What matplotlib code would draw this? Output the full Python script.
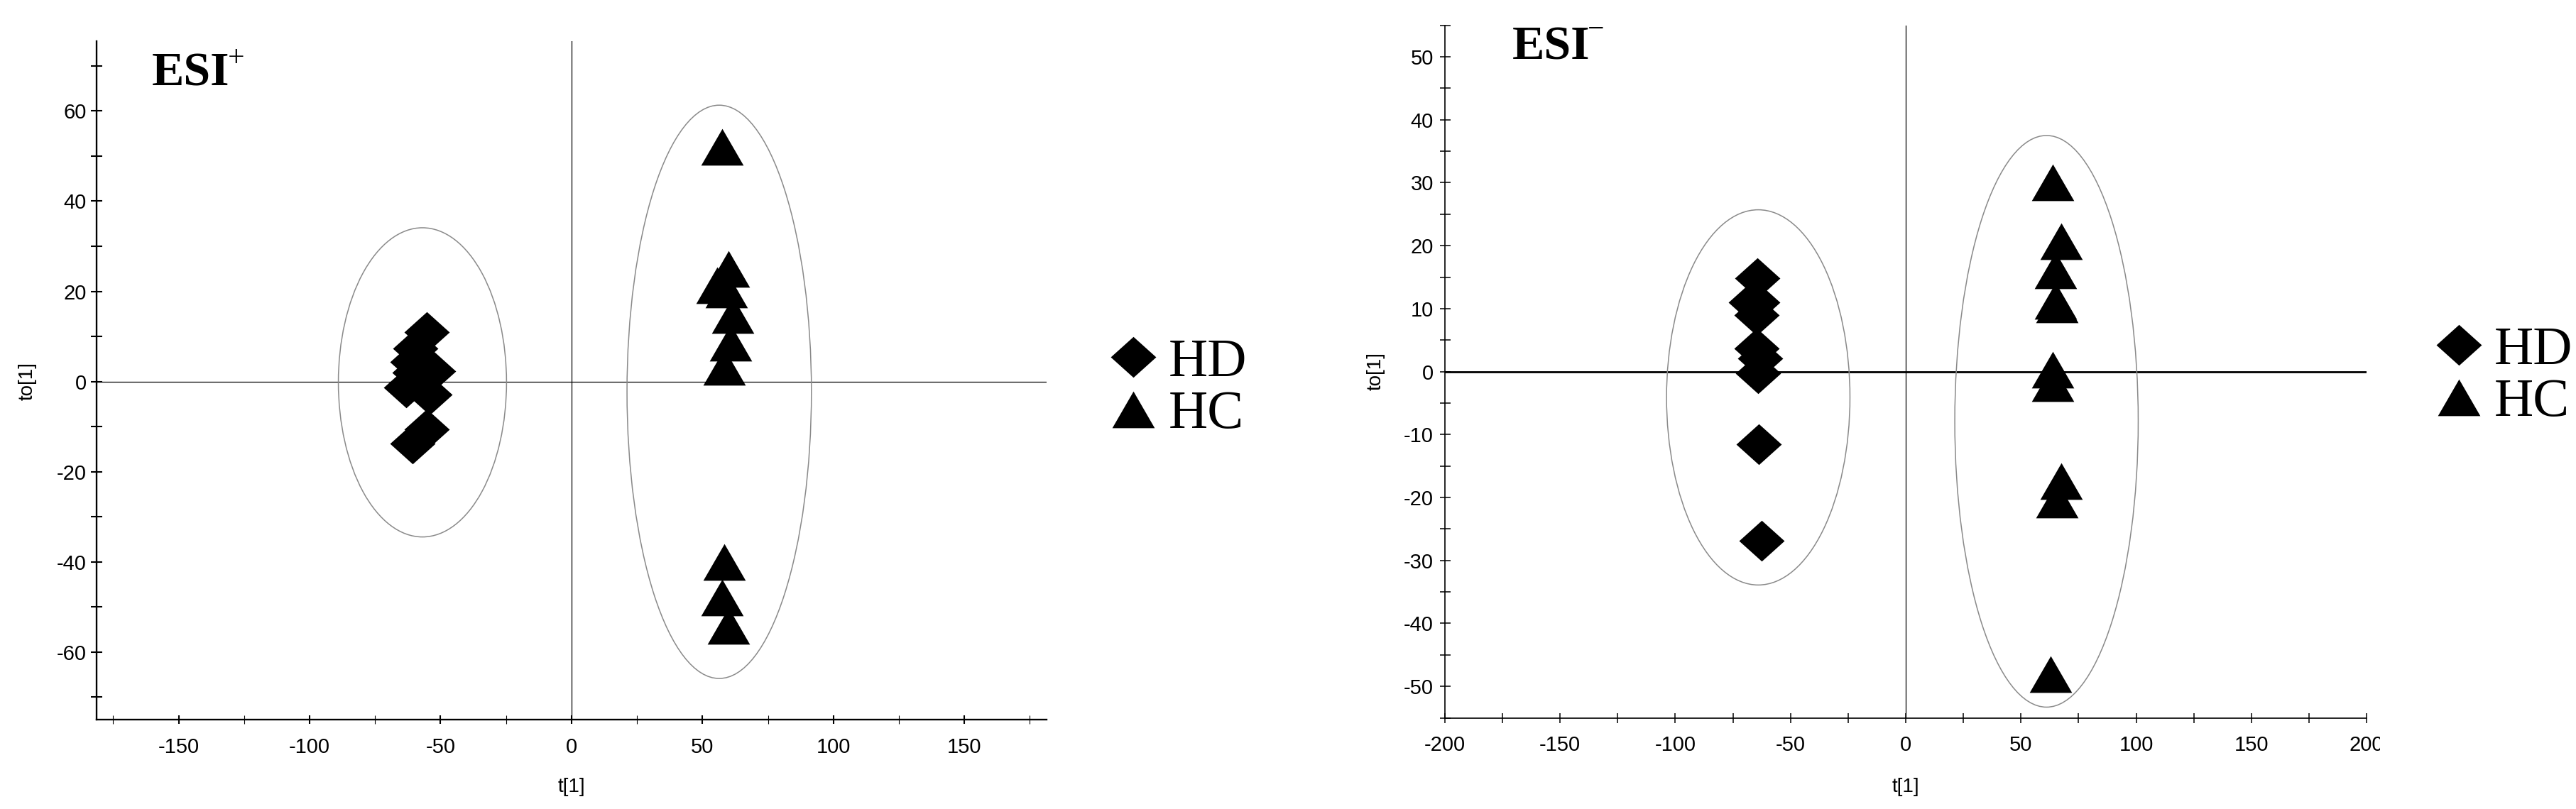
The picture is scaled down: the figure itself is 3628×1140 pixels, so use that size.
import numpy as np
import matplotlib
matplotlib.use('Agg')
import matplotlib.pyplot as plt
from matplotlib.path import Path
from matplotlib.patches import Ellipse
from matplotlib.transforms import Bbox, TransformedBbox

# scores
pos_hd_x = [-55.2, -59.7, -60.6, -59.8, -52.7, -63.1, -54.3, -55.2, -60.6]
pos_hd_y = [10.9, 7.3, 4.3, 2.0, 2.3, -1.4, -2.9, -10.6, -13.8]
pos_hc_x = [57.5, 59.9, 55.7, 59.1, 61.5, 60.7, 58.3, 58.3, 57.4, 59.9]
pos_hc_y = [52.0, 24.9, 21.3, 20.4, 14.7, 8.6, 3.3, -40.0, -47.9, -54.3]

neg_hd_x = [-64.3, -67.1, -64.3, -64.8, -64.8, -63.2, -64.0, -63.7, -62.4]
neg_hd_y = [14.8, 11.0, 11.0, 9.0, 3.7, 2.1, -0.3, -11.5, -26.9]
neg_hc_x = [63.9, 67.5, 64.9, 64.9, 65.7, 63.9, 63.9, 67.5, 65.7, 63.0]
neg_hc_y = [30.1, 20.7, 16.1, 11.2, 10.7, 0.3, -1.9, -17.4, -20.3, -48.1]

# ellipses: center x, center y, half width, half height
pos_ell = [(-56.9, -0.2, 32.1, 34.3), (56.4, -2.3, 35.2, 63.6)]
neg_ell = [(-64.0, -4.1, 39.8, 29.8), (61.1, -7.9, 39.8, 45.4)]

labels = ['HD', 'HC']

diamond = Path([(0, 0.9), (1, 0), (0, -0.9), (-1, 0), (0, 0.9)], closed=True)
triangle = Path([(-1, -0.866), (1, -0.866), (0, 0.866), (-1, -0.866)], closed=True)

plt.rcParams['font.family'] = 'Liberation Sans'
plt.rcParams['axes.unicode_minus'] = False

fig = plt.figure(figsize=(36.28, 11.4), dpi=100)
ax1 = fig.add_axes([0.0374, 0.1101, 0.3689, 0.8390])
ax2 = fig.add_axes([0.5609, 0.1127, 0.3578, 0.8560])


def panel(ax, hdx, hdy, hcx, hcy, ells, spine_w, hline_w):
  for cx, cy, hw, hh in ells:
    ax.add_patch(Ellipse((cx, cy), 2 * hw, 2 * hh, fill=False,
                         edgecolor='#8a8a8a', lw=1.1, zorder=2))
  ax.axhline(0, color='black', lw=hline_w, zorder=1)
  ax.axvline(0, color='black', lw=0.9, zorder=1)
  ax.plot(hdx, hdy, linestyle='none', marker=diamond, ms=46,
          mfc='black', mec='black', mew=0, label=labels[0], zorder=3)
  ax.plot(hcx, hcy, linestyle='none', marker=triangle, ms=43,
          mfc='black', mec='black', mew=0, label=labels[1], zorder=3)
  for s in ['top', 'right']:
    ax.spines[s].set_visible(False)
  for s in ['left', 'bottom']:
    ax.spines[s].set_linewidth(spine_w)
  ax.set_xlabel('t[1]', fontsize=20)
  ax.set_ylabel('to[1]', fontsize=20)
  ax.xaxis.label.set_va('center')
  ax.yaxis.label.set_va('center')


panel(ax1, pos_hd_x, pos_hd_y, pos_hc_x, pos_hc_y, pos_ell, 1.7, 0.9)
panel(ax2, neg_hd_x, neg_hd_y, neg_hc_x, neg_hc_y, neg_ell, 1.2, 2.0)

# left panel axes
ax1.set_xlim(-181.4, 181.4)
ax1.set_ylim(-75.1, 75.5)
ax1.set_xticks(np.arange(-150, 151, 50))
ax1.set_xticks(np.arange(-175, 176, 50), minor=True)
ax1.set_yticks(np.arange(-60, 61, 20))
ax1.set_yticks(np.arange(-70, 71, 20), minor=True)
ax1.tick_params(axis='y', which='both', direction='inout', length=11.5,
                width=1.5, pad=4.3, labelsize=21)
ax1.tick_params(axis='x', which='major', direction='inout', length=8.9,
                width=1.5, pad=13, labelsize=21)
ax1.tick_params(axis='x', which='minor', direction='inout', length=8.9,
                width=0.8)
ax1.xaxis.set_label_coords(0.5, -0.0988)
ax1.yaxis.set_label_coords(-0.0723, 0.499)
ax1.text(0.0585, 0.935, 'ESI', transform=ax1.transAxes, fontsize=49,
         fontweight='bold', family='Liberation Serif', ha='left', va='baseline')
ax1.text(0.147, 0.974, '+', transform=ax1.transAxes, fontsize=30,
         family='Liberation Serif', ha='center', va='center')

# right panel axes
ax2.set_xlim(-200, 200)
ax2.set_ylim(-55, 55)
ax2.set_xticks(np.arange(-200, 201, 50))
ax2.set_xticks(np.arange(-175, 176, 50), minor=True)
ax2.set_yticks(np.arange(-50, 51, 10))
ax2.set_yticks(np.arange(-55, 56, 10), minor=True)
ax2.tick_params(axis='y', which='both', direction='inout', length=10.8,
                width=1.1, pad=6, labelsize=21)
ax2.tick_params(axis='x', which='both', direction='inout', length=9.4,
                width=1.1, pad=13, labelsize=21)
ax2.xaxis.set_label_coords(0.5, -0.0999)
ax2.yaxis.set_label_coords(-0.0751, 0.5006)
ax2.text(0.0732, 0.9515, 'ESI', transform=ax2.transAxes, fontsize=49,
         fontweight='bold', family='Liberation Serif', ha='left', va='baseline')
ax2.text(0.164, 0.9925, '\u2212', transform=ax2.transAxes, fontsize=30,
         family='Liberation Serif', ha='center', va='center')

# the last x label is cut off in the original
last = ax2.get_xticklabels()[-1]
last.set_clip_box(TransformedBbox(Bbox([[0, 0], [3352 / 3628, 1]]), fig.transFigure))
last.set_clip_on(True)

for ax, anchor in [(ax1, (0.4316, 0.5194)), (ax2, (0.946, 0.5343))]:
  ax.legend(loc='center left', bbox_to_anchor=anchor,
            bbox_transform=fig.transFigure, frameon=False, numpoints=1,
            borderpad=0, borderaxespad=0, handlelength=0.8,
            handletextpad=0.25, labelspacing=0.05,
            prop={'family': 'Liberation Serif', 'size': 55})

fig.savefig('out.png', dpi=100)
